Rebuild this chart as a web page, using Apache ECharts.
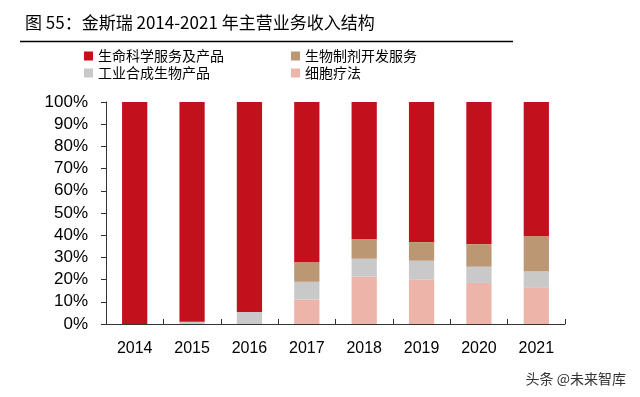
<!DOCTYPE html>
<html>
<head>
<meta charset="utf-8">
<script src="https://cdn.jsdelivr.net/npm/echarts@6/dist/echarts.min.js"></script>
<style>
  html, body { margin: 0; padding: 0; background: #fff; }
  #chart { width: 640px; height: 397px; }
</style>
</head>
<body>
<div id="chart"></div>
<script>
// 年份
const years = ['2014', '2015', '2016', '2017', '2018', '2019', '2020', '2021'];
// 各业务占比（%）
const cellTherapy = [0, 0, 0, 11, 21.4, 20, 18.5, 16.5];       // 细胞疗法
const industrial = [0, 1, 5.4, 8, 8, 8.5, 7.3, 7.2];           // 工业合成生物产品
const biologics = [0, 0, 0, 8.8, 8.9, 8.4, 10.2, 15.8];        // 生物制剂开发服务
const lifeScience = [100, 99, 94.6, 72.2, 61.7, 63.1, 64, 60.5]; // 生命科学服务及产品

const font = 'Arial, "Liberation Sans", "Noto Sans CJK SC", sans-serif';
const cjk = '"Noto Sans CJK SC", sans-serif';

const chart = echarts.init(document.getElementById('chart'));

const bar = (name, data, color) => ({
  name: name,
  type: 'bar',
  stack: 'total',
  barWidth: '44%',
  itemStyle: { color: color },
  data: data
});

const option = {
  backgroundColor: '#fff',
  animation: false,
  title: {
    text: '图 55：金斯瑞 2014-2021 年主营业务收入结构',
    left: 20,
    top: 9,
    textStyle: { fontFamily: cjk, fontSize: 17, fontWeight: 'normal', color: '#000' }
  },
  graphic: [
    {
      type: 'line',
      shape: { x1: 20, y1: 41.5, x2: 513, y2: 41.5 },
      style: { stroke: '#000', lineWidth: 1.5 }
    },
    {
      type: 'text',
      right: 14,
      top: 372,
      style: { text: '头条 @未来智库', fontFamily: cjk, fontSize: 14, fill: '#333' }
    }
  ],
  legend: [
    {
      orient: 'vertical',
      left: 79,
      top: 44,
      itemWidth: 9,
      itemHeight: 9,
      itemGap: 3,
      icon: 'rect',
      textStyle: { fontFamily: cjk, fontSize: 14, color: '#000' },
      data: ['生命科学服务及产品', '工业合成生物产品']
    },
    {
      orient: 'vertical',
      left: 286,
      top: 44,
      itemWidth: 9,
      itemHeight: 9,
      itemGap: 3,
      icon: 'rect',
      textStyle: { fontFamily: cjk, fontSize: 14, color: '#000' },
      data: ['生物制剂开发服务', '细胞疗法']
    }
  ],
  grid: {
    left: 106,
    right: 75,
    top: 102,
    bottom: 73
  },
  xAxis: {
    type: 'category',
    data: years,
    axisLine: { show: true, lineStyle: { color: '#333', width: 1 } },
    axisTick: { show: true, inside: true, length: 5, lineStyle: { color: '#333' } },
    axisLabel: { margin: 17, fontFamily: font, fontSize: 16, color: '#000' },
    splitLine: { show: false }
  },
  yAxis: {
    type: 'value',
    min: 0,
    max: 100,
    interval: 10,
    axisLine: { show: true, lineStyle: { color: '#333', width: 1 } },
    axisTick: { show: true, length: 5, lineStyle: { color: '#333' } },
    axisLabel: { margin: 18, fontFamily: font, fontSize: 17, color: '#000', formatter: '{value}%' },
    splitLine: { show: false }
  },
  series: [
    bar('细胞疗法', cellTherapy, '#EDB4A9'),
    bar('工业合成生物产品', industrial, '#C9C9C9'),
    bar('生物制剂开发服务', biologics, '#BC9774'),
    bar('生命科学服务及产品', lifeScience, '#C3101D')
  ]
};

chart.setOption(option);
</script>
</body>
</html>
